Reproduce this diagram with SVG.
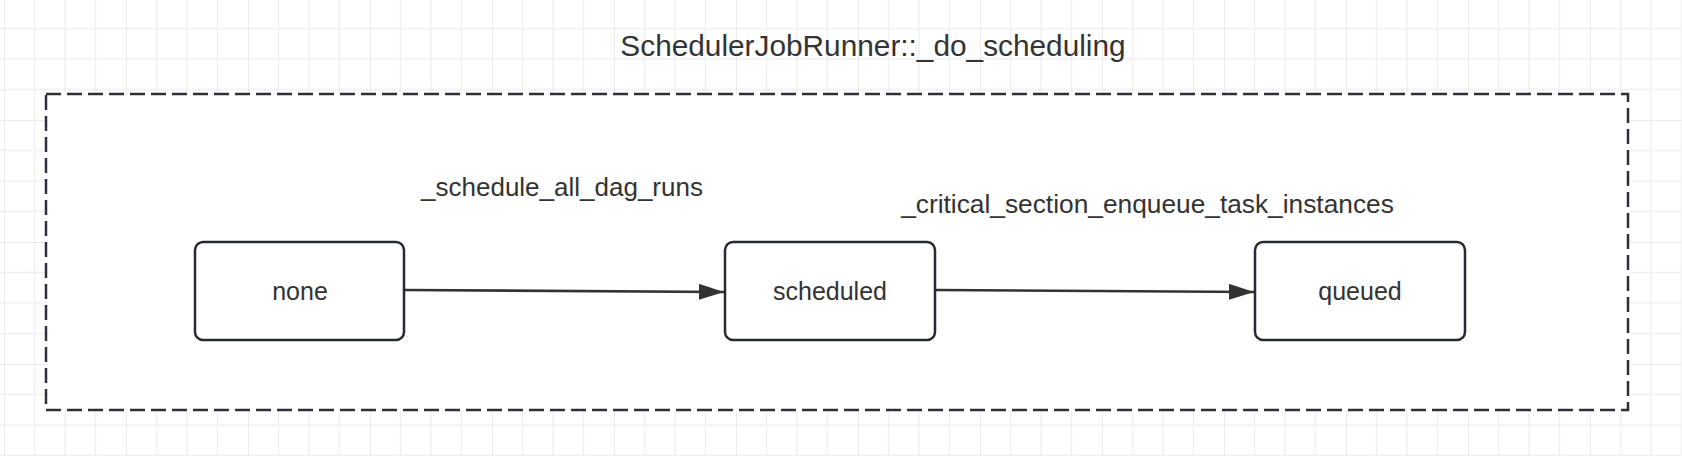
<svg xmlns="http://www.w3.org/2000/svg" width="1682" height="456" viewBox="0 0 1682 456">
  <style>
    .txt { font-family: "Liberation Sans", Arial, sans-serif; fill: #333333; text-anchor: middle; }
    .node rect { fill: #ffffff; stroke: #262b33; stroke-width: 2.5; }
    .edge { stroke: #333333; stroke-width: 2.6; fill: none; marker-end: url(#arrow); }
  </style>
  <defs>
    <pattern id="grid" patternUnits="userSpaceOnUse" x="4" y="-2" width="122" height="122">
      <g stroke="#f0f0f0" stroke-width="1.5">
        <line x1="30.5" y1="0" x2="30.5" y2="122"/>
        <line x1="61" y1="0" x2="61" y2="122"/>
        <line x1="91.5" y1="0" x2="91.5" y2="122"/>
        <line x1="0" y1="30.5" x2="122" y2="30.5"/>
        <line x1="0" y1="61" x2="122" y2="61"/>
        <line x1="0" y1="91.5" x2="122" y2="91.5"/>
      </g>
      <g stroke="#e4e4e4" stroke-width="1.5">
        <line x1="0" y1="0" x2="0" y2="122"/>
        <line x1="0" y1="0" x2="122" y2="0"/>
      </g>
    </pattern>
    <marker id="arrow" markerUnits="userSpaceOnUse" markerWidth="26" markerHeight="18" refX="25" refY="8" orient="auto">
      <path d="M0,0 L25,8 L0,16 Z" fill="#333333"/>
    </marker>
  </defs>
  <rect x="0" y="0" width="1682" height="456" fill="#ffffff"/>
  <rect x="0" y="0" width="1682" height="456" fill="url(#grid)"/>

  <g id="title">
    <text class="txt" x="873" y="56" font-size="29.8">SchedulerJobRunner::_do_scheduling</text>
  </g>

  <g id="container">
    <rect x="46" y="94" width="1582" height="316" fill="#ffffff" stroke="#2b303a" stroke-width="2.5" stroke-dasharray="15 6"/>
  </g>

  <g id="connectors">
    <line class="edge" x1="405" y1="290" x2="724" y2="292"/>
    <line class="edge" x1="936" y1="290" x2="1254" y2="292"/>
    <text class="txt" x="562" y="196" font-size="26">_schedule_all_dag_runs</text>
    <text class="txt" x="1147.5" y="213" font-size="26.3">_critical_section_enqueue_task_instances</text>
  </g>

  <g id="node-none" class="node">
    <rect x="195" y="242" width="209" height="98" rx="8"/>
    <text class="txt" x="300" y="300" font-size="25">none</text>
  </g>
  <g id="node-scheduled" class="node">
    <rect x="725" y="242" width="210" height="98" rx="8"/>
    <text class="txt" x="830" y="300" font-size="25">scheduled</text>
  </g>
  <g id="node-queued" class="node">
    <rect x="1255" y="242" width="210" height="98" rx="8"/>
    <text class="txt" x="1360" y="300" font-size="25">queued</text>
  </g>
</svg>
